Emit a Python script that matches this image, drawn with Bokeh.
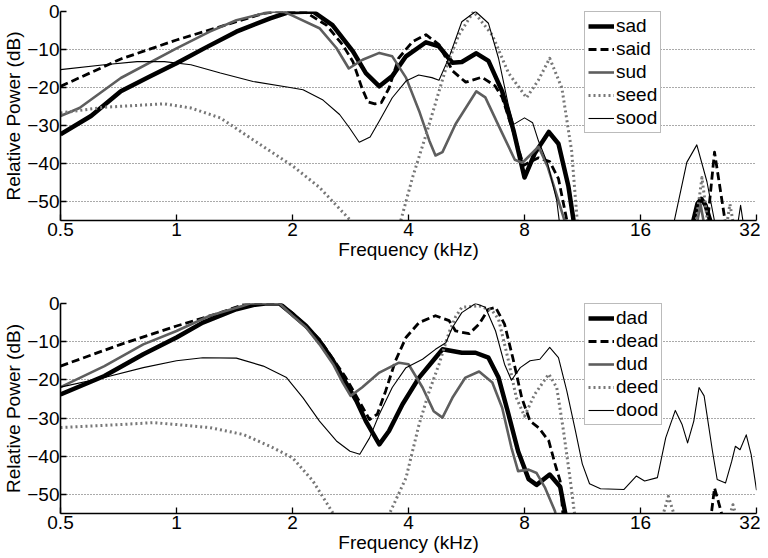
from bokeh.plotting import figure
from bokeh.models import FixedTicker, CustomJSTickFormatter, Legend, Range1d
from bokeh.layouts import column
from bokeh.embed import file_html
from bokeh.resources import INLINE

x_ticks = [0.5, 1, 2, 4, 8, 16, 32]
y_ticks = [-50, -40, -30, -20, -10, 0]

# ---------------- top panel: s-words ----------------
top_names = ["sad", "said", "sud", "seed", "sood"]

sad_f = [0.5, 0.6, 0.717, 0.85, 1.0, 1.18, 1.43, 1.75, 1.95, 2.26, 2.54, 2.87, 3.1, 3.36, 3.63, 3.94, 4.44, 4.8,
         5.2, 5.5, 6.0, 6.45, 7.0, 7.5, 8.0, 8.5, 9.25, 9.8, 10.4, 10.8,
         21.7, 22.5, 23.0, 23.6, 24.6]
sad_db = [-32.3, -27.5, -21.0, -17.2, -13.6, -9.7, -5.3, -1.8, -0.2, 0.0, -3.6, -10.5, -16.2, -19.7, -17.0, -11.8, -8.1, -9.2,
          -13.5, -13.3, -11.0, -13.0, -21.0, -31.5, -43.7, -37.4, -31.7, -34.8, -46.0, -57.0,
          -57.0, -50.5, -49.3, -51.0, -57.0]

said_f = [0.5, 0.717, 1.0, 1.43, 1.68, 1.85, 2.15, 2.45, 2.7, 2.87, 3.03, 3.14, 3.27, 3.4, 3.56, 3.77, 4.1, 4.44, 4.8,
          5.2, 5.63, 6.2, 6.7, 7.0, 7.5, 7.95, 8.3, 8.7, 9.3, 9.8, 10.4,
          23.8, 24.9, 26.7]
said_db = [-19.7, -12.5, -7.5, -2.7, -0.5, 0.0, 0.0, -3.6, -8.8, -13.2, -20.2, -23.8, -24.3, -24.0, -20.2, -12.3, -7.9, -6.1, -8.7,
           -15.6, -18.6, -17.3, -19.5, -22.6, -32.0, -40.5, -39.5, -38.5, -39.5, -44.0, -57.0,
           -57.0, -37.0, -57.0]

sud_f = [0.5, 0.56, 0.717, 1.0, 1.22, 1.43, 1.68, 1.8, 1.9, 2.0, 2.35, 2.6, 2.8, 3.04, 3.36, 3.63, 3.94, 4.26, 4.53, 4.7,
         4.9, 5.3, 6.0, 6.33, 7.0, 7.55, 7.9, 8.7, 9.2, 9.8, 10.3,
         22.3, 22.9, 23.5]
sud_db = [-27.5, -25.4, -17.5, -9.7, -5.3, -2.3, -0.5, 0.0, -0.1, -1.1, -4.4, -9.6, -15.0, -12.7, -10.9, -11.8, -17.4, -26.1, -34.0, -37.9,
          -37.0, -29.6, -21.0, -22.6, -32.0, -39.0, -39.8, -35.6, -41.0, -49.8, -57.0,
          -57.0, -50.7, -57.0]

seed_f = [0.5, 0.65, 0.93, 1.09, 1.3, 1.55, 2.0, 2.35, 2.83, 3.0, 3.7, 3.82, 4.1, 4.44, 5.0, 5.4, 5.9, 6.6, 7.27,
          8.1, 8.7, 9.3, 10.0, 10.6, 11.0,
          22.2, 23.1, 24.0, 26.7, 27.3, 28.0]
seed_db = [-26.7, -25.2, -24.3, -25.4, -28.0, -33.2, -40.6, -46.3, -55.0, -60.0, -60.0, -55.0, -43.6, -32.5, -15.0, -6.2, 0.0, -6.2, -16.2,
           -22.7, -18.0, -12.3, -20.1, -36.6, -57.0,
           -57.0, -43.7, -57.0, -57.0, -50.7, -57.0]

sood_f = [0.5, 0.65, 0.79, 0.93, 1.09, 1.3, 1.58, 1.97, 2.13, 2.4, 2.65, 2.81, 2.98, 3.18, 3.36, 3.63, 3.94, 4.25, 4.6, 4.8,
          5.1, 5.5, 5.97, 6.45, 6.85, 7.26, 7.5, 8.0, 8.4, 8.7, 9.2, 9.7, 9.9,
          19.4, 21.1, 22.4, 23.8, 25.1, 28.5, 29.1, 29.7]
sood_db = [-15.3, -14.0, -13.2, -13.2, -14.0, -16.2, -18.4, -20.0, -20.6, -23.3, -27.1, -30.6, -34.4, -33.0, -28.8, -22.7, -18.3, -16.7, -17.4, -18.1,
           -12.0, -2.7, 0.0, -3.1, -12.3, -24.5, -29.7, -28.0, -29.3, -34.1, -40.2, -49.8, -57.0,
           -57.0, -39.7, -35.1, -44.8, -57.0, -57.0, -51.0, -57.0]

# ---------------- bottom panel: d-words ----------------
bottom_names = ["dad", "dead", "dud", "deed", "dood"]

dad_f = [0.5, 0.65, 0.82, 1.0, 1.17, 1.43, 1.6, 1.7, 1.85, 2.0, 2.17, 2.35, 2.55, 2.75, 2.93, 3.1, 3.36, 3.56, 3.86,
         4.26, 4.7, 4.9, 5.5, 5.97, 6.45, 6.85, 7.27, 7.7, 8.2, 8.6, 9.3, 9.9, 10.3]
dad_db = [-23.8, -19.0, -13.3, -8.9, -5.0, -1.5, -0.3, 0.0, 0.0, -2.8, -5.9, -9.8, -15.0, -20.7, -25.5, -30.8, -36.9, -33.4, -26.4,
          -19.4, -14.2, -12.0, -12.9, -12.9, -14.2, -19.4, -29.0, -38.7, -46.0, -47.5, -44.8, -48.0, -57.0]

dead_f = [0.5, 0.717, 1.0, 1.3, 1.49, 1.6, 1.85, 2.0, 2.35, 2.75, 3.03, 3.17, 3.32, 3.49, 3.7, 3.94, 4.26, 4.7, 5.1,
          5.3, 5.75, 6.1, 6.45, 6.73, 7.1, 7.46, 7.87, 8.27, 8.7, 9.25, 9.6, 9.9, 10.1,
          24.3, 24.9, 25.5, 26.3]
dead_db = [-16.4, -10.7, -5.9, -2.4, -0.3, 0.0, 0.0, -2.5, -9.4, -19.4, -26.9, -30.4, -29.0, -22.9, -15.0, -8.9, -5.0, -3.2, -4.5,
           -7.2, -7.9, -5.4, -1.5, -1.0, -5.4, -14.2, -24.7, -30.8, -32.5, -36.0, -42.0, -46.5, -57.0,
           -57.0, -48.3, -52.0, -57.0]

dud_f = [0.5, 0.65, 0.82, 1.0, 1.22, 1.49, 1.55, 1.85, 2.0, 2.17, 2.35, 2.55, 2.7, 2.83, 3.03, 3.36, 3.78, 4.0, 4.35,
         4.65, 4.9, 5.2, 5.62, 6.1, 6.6, 7.0, 7.4, 7.7, 8.2, 8.6, 9.05, 9.6, 9.7]
dud_db = [-21.9, -16.4, -10.7, -7.2, -3.2, -0.6, 0.0, 0.0, -3.2, -6.3, -10.7, -15.9, -20.7, -24.2, -22.0, -18.1, -15.5, -15.9, -22.0,
          -28.2, -29.9, -24.7, -19.4, -17.8, -20.7, -27.3, -37.8, -43.9, -43.5, -44.4, -48.3, -54.4, -57.0]

deed_f = [0.5, 0.717, 0.87, 1.0, 1.22, 1.49, 1.75, 2.0, 2.26, 2.55, 2.7, 3.4, 3.56, 3.94, 4.26, 4.53, 4.8, 5.1, 5.3,
          5.5, 6.1, 6.6, 6.85, 7.27, 7.62, 8.0, 8.5, 9.25, 9.7, 10.1, 10.5, 10.85,
          18.1, 18.9, 19.8, 27.0, 27.8, 28.6]
deed_db = [-32.5, -31.7, -31.2, -31.7, -32.5, -34.3, -37.4, -40.4, -46.5, -55.0, -60.0, -60.0, -55.3, -45.7, -31.7, -22.9, -15.9, -7.5, -3.5,
           -1.0, -0.6, -1.9, -4.1, -15.0, -24.7, -29.5, -23.8, -18.5, -22.0, -33.4, -45.7, -57.0,
           -57.0, -50.5, -57.0, -57.0, -52.7, -57.0]

dood_f = [0.5, 0.65, 0.82, 1.0, 1.17, 1.43, 1.68, 1.93, 2.13, 2.35, 2.6, 2.82, 2.99, 3.17, 3.36, 3.63, 3.94, 4.35, 4.7,
          5.0, 5.2, 5.5, 5.97, 6.33, 6.73, 7.1, 7.4, 7.8, 8.27, 8.77, 9.3, 9.8, 10.3, 10.85, 11.3, 11.8, 12.6,
          14.5, 15.6, 16.4, 17.7, 18.6, 19.7, 20.5, 21.2, 22.0, 22.7, 23.4, 24.6, 25.3, 26.6, 27.6, 28.2, 29.0,
          30.1, 31.0, 32.0]
dood_db = [-21.9, -19.4, -16.8, -15.0, -14.2, -14.3, -16.4, -19.4, -24.7, -30.8, -36.0, -38.7, -39.5, -35.2, -29.0, -22.0, -16.8, -14.6, -12.0,
           -10.3, -6.3, -2.4, 0.0, -1.0, -7.2, -15.9, -20.1, -16.8, -15.0, -14.6, -11.5, -14.2, -22.9, -33.4, -42.0, -47.2, -48.5,
           -48.7, -45.2, -46.5, -45.6, -35.2, -28.0, -31.6, -36.5, -30.8, -22.0, -24.2, -38.7, -46.1, -47.0, -41.3, -37.4, -38.3,
           -34.4, -39.6, -48.9]

# line styles per slot (1..5)
styles = [
    dict(line_color="black", line_width=4.5),
    dict(line_color="black", line_width=2.8, line_dash="8 4"),
    dict(line_color="#5e5e5e", line_width=2.6),
    dict(line_color="#777777", line_width=3.0, line_dash="2 3"),
    dict(line_color="black", line_width=1.1),
]

FONT = "Liberation Sans"


def make_panel(names, series, frame_h, border_top, border_bottom):
    p = figure(x_axis_type="log", x_range=Range1d(0.5, 32), y_range=Range1d(-55, 0),
               width=760, height=border_top + frame_h + border_bottom,
               min_border_left=56, min_border_right=4,
               min_border_top=border_top, min_border_bottom=border_bottom,
               output_backend="svg", toolbar_location=None)
    p.outline_line_color = None
    p.background_fill_color = "white"
    p.border_fill_color = "white"

    renderers = []
    for (f, db), st in zip(series, styles):
        r = p.line(f, db, line_join="round", **st)
        renderers.append(r)

    xa = p.xaxis[0]
    xa.ticker = FixedTicker(ticks=x_ticks)
    xa.formatter = CustomJSTickFormatter(code="return String(tick);")
    xa.axis_label = "Frequency (kHz)"
    ya = p.yaxis[0]
    ya.ticker = FixedTicker(ticks=y_ticks)
    ya.axis_label = "Relative Power (dB)"
    for ax in (xa, ya):
        ax.axis_line_color = "black"
        ax.axis_line_width = 1.6
        ax.major_tick_line_color = "black"
        ax.major_tick_line_width = 1.3
        ax.major_tick_in = 6
        ax.major_tick_out = 0
        ax.minor_tick_line_color = None
        ax.major_label_text_font = FONT
        ax.major_label_text_color = "black"
        ax.axis_label_text_font = FONT
        ax.axis_label_text_font_style = "normal"
        ax.axis_label_text_color = "black"
    xa.major_label_text_font_size = "19px"
    xa.axis_label_text_font_size = "19px"
    xa.major_label_standoff = 2
    xa.axis_label_standoff = 0
    ya.major_label_text_font_size = "19px"
    ya.axis_label_text_font_size = "19px"
    ya.major_label_standoff = 1
    ya.axis_label_standoff = 0

    p.xgrid.visible = False
    p.ygrid.ticker = FixedTicker(ticks=y_ticks)
    p.ygrid.grid_line_color = "#555555"
    p.ygrid.grid_line_dash = "1 2"
    p.ygrid.grid_line_width = 1

    legend = Legend(items=[(n, [r]) for n, r in zip(names, renderers)],
                    location=(524, frame_h - 2 - 120))
    legend.label_text_font = FONT
    legend.label_text_font_size = "19px"
    legend.label_text_color = "black"
    legend.glyph_width = 26
    legend.glyph_height = 20
    legend.label_height = 20
    legend.label_standoff = 2
    legend.spacing = 1
    legend.padding = 3
    legend.margin = 0
    legend.border_line_color = "#777777"
    legend.border_line_width = 1
    legend.background_fill_color = "white"
    legend.background_fill_alpha = 1.0
    p.add_layout(legend)
    return p


top = make_panel(top_names,
                 [(sad_f, sad_db), (said_f, said_db), (sud_f, sud_db), (seed_f, seed_db), (sood_f, sood_db)],
                 209, 11, 68)
bottom = make_panel(bottom_names,
                    [(dad_f, dad_db), (dead_f, dead_db), (dud_f, dud_db), (deed_f, deed_db), (dood_f, dood_db)],
                    210, 15, 43)

layout = column(top, bottom, spacing=0)
open("out.html", "w").write(file_html(layout, INLINE))
